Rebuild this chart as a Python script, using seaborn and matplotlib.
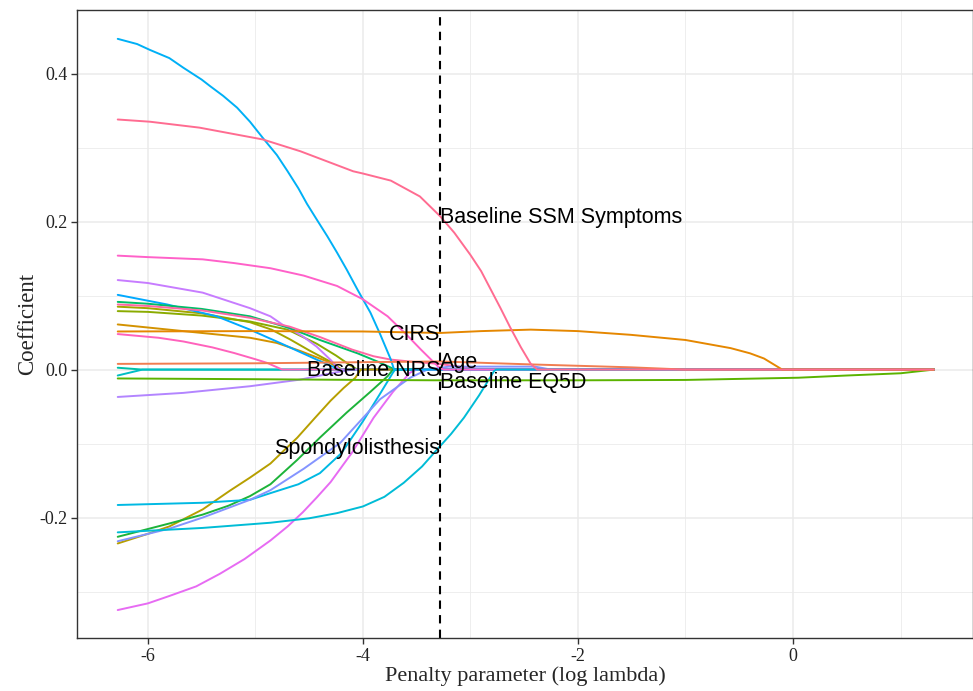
import pandas as pd
import numpy as np
import matplotlib.pyplot as plt
import matplotlib as mpl
from matplotlib.ticker import MultipleLocator
import seaborn as sns

sns.set_theme(style="white")
plt.rcParams['font.family'] = ['Liberation Serif', 'DejaVu Serif']
plt.rcParams['axes.unicode_minus'] = False
mpl.rc("figure", facecolor="white")

LAMBDA_MIN = -3.28
END = 1.31

# coefficient paths (log lambda, coefficient)
x_teal = [-6.28, -6.05, END]
y_teal = [0.0025, 0.0, 0.0]
x_cyan0 = [-6.28, -6.05, END]
y_cyan0 = [-0.008, 0.0, 0.0]
x_pink3 = [-6.28, -5.9, -5.67, -5.4, -5.2, -5.0, -4.89, -4.75, END]
y_pink3 = [0.048, 0.043, 0.038, 0.030, 0.0225, 0.014, 0.009, 0.0, 0.0]
x_purple2 = [-6.28, -5.67, -5.05, -4.58, -4.28, -4.1, END]
y_purple2 = [-0.037, -0.0315, -0.0225, -0.0135, -0.0045, 0.0, 0.0]
x_orange2 = [-6.28, -5.67, -5.05, -4.8, -4.58, -4.33, -4.2, END]
y_orange2 = [0.061, 0.052, 0.043, 0.036, 0.025, 0.011, 0.0, 0.0]
x_olive = [-6.28, -6.0, -5.5, -5.05, -4.85, -4.68, -4.5, -4.28, -4.2, END]
y_olive = [0.085, 0.083, 0.076, 0.064, 0.054, 0.041, 0.026, 0.009, 0.0, 0.0]
x_olivegreen = [-6.28, -6.0, -5.5, -5.05, -4.7, -4.43, -4.25, -4.12, -4.05, END]
y_olivegreen = [0.079, 0.078, 0.073, 0.065, 0.054, 0.035, 0.019, 0.006, 0.0, 0.0]
x_blue2 = [-6.28, -5.82, -5.36, -5.05, -4.74, -4.43, -4.28, -4.22, END]
y_blue2 = [0.101, 0.088, 0.072, 0.054, 0.034, 0.0135, 0.004, 0.0, 0.0]
x_purple1 = [-6.28, -6.0, -5.49, -5.05, -4.86, -4.74, -4.56, -4.43, -4.3, -4.22, END]
y_purple1 = [0.121, 0.117, 0.104, 0.083, 0.072, 0.06, 0.045, 0.031, 0.013, 0.0, 0.0]
x_green1 = [-6.28, -6.0, -5.5, -5.05, -4.68, -4.4, -4.05, -3.85, -3.7, END]
y_green1 = [0.0915, 0.089, 0.082, 0.072, 0.056, 0.040, 0.022, 0.010, 0.0, 0.0]
x_pink2 = [-6.28, -6.0, -5.5, -5.05, -4.68, -4.4, -4.1, -3.9, -3.74, -3.5, -3.31, -3.1, -2.9, END]
y_pink2 = [0.088, 0.086, 0.080, 0.070, 0.058, 0.044, 0.027, 0.018, 0.0135, 0.010, 0.008, 0.004, 0.0, 0.0]
x_olive2 = [-6.28, -6.0, -5.8, -5.49, -5.24, -5.05, -4.86, -4.61, -4.45, -4.30, -4.18, -4.07, -4.02, END]
y_olive2 = [-0.235, -0.222, -0.212, -0.189, -0.164, -0.146, -0.127, -0.092, -0.066, -0.042, -0.025, -0.011, 0.0, 0.0]
x_green2 = [-6.28, -5.8, -5.49, -5.25, -5.05, -4.86, -4.61, -4.4, -4.15, -3.93, -3.77, -3.72, END]
y_green2 = [-0.226, -0.208, -0.196, -0.184, -0.171, -0.155, -0.122, -0.092, -0.058, -0.03, -0.009, 0.0, 0.0]
x_cyan1 = [-6.28, -5.49, -5.05, -4.86, -4.6, -4.4, -4.2, -4.0, -3.85, -3.72, -3.7, END]
y_cyan1 = [-0.183, -0.180, -0.176, -0.167, -0.155, -0.14, -0.113, -0.07, -0.035, -0.004, 0.0, 0.0]
x_magenta = [-6.28, -6.0, -5.8, -5.55, -5.33, -5.1, -4.86, -4.7, -4.56, -4.43, -4.3, -4.1, -3.9, -3.72, -3.56, -3.5, END]
y_magenta = [-0.325, -0.316, -0.306, -0.293, -0.276, -0.256, -0.231, -0.212, -0.193, -0.173, -0.152, -0.112, -0.065, -0.03, -0.004, 0.0, 0.0]
x_bluepurple = [-6.28, -5.8, -5.49, -5.05, -4.86, -4.55, -4.21, -3.84, -3.56, -3.4, -3.2, -2.4, -2.25, END]
y_bluepurple = [-0.232, -0.215, -0.200, -0.176, -0.163, -0.134, -0.099, -0.04, -0.011, 0.0, 0.004, 0.004, 0.0, 0.0]
x_blue1 = [-6.28, -6.1, -5.98, -5.8, -5.67, -5.5, -5.42, -5.3, -5.17, -5.05, -4.93, -4.8, -4.7,
           -4.6, -4.52, -4.43, -4.33, -4.24, -4.15, -4.05, -3.93, -3.84, -3.74, -3.71, END]
y_blue1 = [0.447, 0.440, 0.432, 0.421, 0.408, 0.392, 0.383, 0.370, 0.354, 0.335, 0.313, 0.290, 0.268,
           0.245, 0.224, 0.203, 0.180, 0.158, 0.135, 0.108, 0.077, 0.048, 0.0135, 0.0, 0.0]
x_pink1 = [-6.28, -6.0, -5.49, -5.2, -4.86, -4.55, -4.24, -4.0, -3.77, -3.6, -3.46, -3.3, -3.25, END]
y_pink1 = [0.154, 0.152, 0.149, 0.144, 0.137, 0.127, 0.113, 0.095, 0.072, 0.048, 0.027, 0.004, 0.0, 0.0]
x_spondy = [-6.28, -5.49, -4.86, -4.5, -4.24, -4.0, -3.8, -3.62, -3.45, -3.31, -3.18, -3.06, -2.92, -2.78, -2.76, END]
y_spondy = [-0.22, -0.214, -0.207, -0.201, -0.194, -0.185, -0.172, -0.153, -0.131, -0.108, -0.087, -0.065, -0.035, -0.002, 0.0, 0.0]
x_eq5d = [-6.28, -5.0, -4.0, -3.28, -2.0, -1.0, 0.05, 0.5, 1.0, END]
y_eq5d = [-0.012, -0.013, -0.014, -0.0145, -0.0145, -0.014, -0.011, -0.008, -0.005, 0.0]
x_age = [-6.28, -5.0, -4.0, -3.28, -2.44, -1.5, -1.0, END]
y_age = [0.0077, 0.0085, 0.010, 0.011, 0.007, 0.003, 0.0, 0.0]
x_cirs = [-6.28, -5.0, -4.0, -3.28, -2.9, -2.44, -2.0, -1.51, -1.0, -0.58, -0.4, -0.27, -0.1, END]
y_cirs = [0.0515, 0.052, 0.0515, 0.0495, 0.052, 0.054, 0.052, 0.047, 0.040, 0.029, 0.022, 0.015, 0.0, 0.0]
x_ssm = [-6.28, -5.98, -5.52, -4.93, -4.58, -4.09, -4.0, -3.74, -3.47, -3.28, -3.15, -3.0, -2.9,
         -2.81, -2.72, -2.63, -2.53, -2.44, -2.38, END]
y_ssm = [0.338, 0.335, 0.327, 0.311, 0.295, 0.268, 0.265, 0.2554, 0.234, 0.207, 0.185, 0.155, 0.133,
         0.108, 0.083, 0.057, 0.030, 0.008, 0.0, 0.0]

# drawing order: last one ends up on top
series = [
    ("teal", x_teal, y_teal, "#00C1A7"),
    ("cyan0", x_cyan0, y_cyan0, "#00BFC4"),
    ("pink3", x_pink3, y_pink3, "#FF62BC"),
    ("purple2", x_purple2, y_purple2, "#B385FF"),
    ("orange2", x_orange2, y_orange2, "#D39200"),
    ("olive", x_olive, y_olive, "#A3A500"),
    ("olivegreen", x_olivegreen, y_olivegreen, "#8AAB00"),
    ("blue2", x_blue2, y_blue2, "#00A9FF"),
    ("purple1", x_purple1, y_purple1, "#C77CFF"),
    ("green1", x_green1, y_green1, "#00BE67"),
    ("pink2", x_pink2, y_pink2, "#FF67A4"),
    ("olive2", x_olive2, y_olive2, "#B79F00"),
    ("green2", x_green2, y_green2, "#1DB33A"),
    ("cyan1", x_cyan1, y_cyan1, "#00B9E3"),
    ("magenta", x_magenta, y_magenta, "#E76BF3"),
    ("bluepurple", x_bluepurple, y_bluepurple, "#8494FF"),
    ("blue1", x_blue1, y_blue1, "#00B0F6"),
    ("pink1", x_pink1, y_pink1, "#FF61C9"),
    ("Spondylolisthesis", x_spondy, y_spondy, "#00BCD6"),
    ("Baseline EQ5D", x_eq5d, y_eq5d, "#5BB300"),
    ("Age", x_age, y_age, "#F17D50"),
    ("CIRS", x_cirs, y_cirs, "#E58700"),
    ("Baseline SSM Symptoms", x_ssm, y_ssm, "#FF6C91"),
]

label_text = ["Baseline SSM Symptoms", "CIRS", "Age", "Baseline NRS", "Baseline EQ5D", "Spondylolisthesis"]
label_y = [0.205, 0.047, 0.0095, -0.001, -0.0175, -0.107]
label_side = ["left", "right", "left", "right", "left", "right"]

rows = []
for name, xs, ys, col in series:
    for xv, yv in zip(xs, ys):
        rows.append((name, xv, yv))
df = pd.DataFrame(rows, columns=["var", "loglambda", "coef"])
pal = {name: col for name, xs, ys, col in series}
order = [s[0] for s in series]

fig = plt.figure(figsize=(9.73, 6.91), dpi=100)
ax = fig.add_axes([0.079, 0.077, 0.921, 0.908])

ax.xaxis.set_minor_locator(MultipleLocator(1))
ax.yaxis.set_minor_locator(MultipleLocator(0.1))
ax.set_xticks([-6, -4, -2, 0])
ax.set_yticks([-0.2, 0.0, 0.2, 0.4])
ax.set_yticklabels(["-0.2", "0.0", "0.2", "0.4"])
ax.set_xticklabels(["-6", "-4", "-2", "0"])
ax.grid(which="major", color="#EBEBEB", linewidth=1.1, zorder=0)
ax.grid(which="minor", color="#EBEBEB", linewidth=0.6, zorder=0)
ax.set_axisbelow(True)

sns.lineplot(data=df, x="loglambda", y="coef", hue="var", hue_order=order,
             palette=pal, estimator=None, legend=False, linewidth=1.4, ax=ax)

ax.axvline(LAMBDA_MIN, color="black", linestyle=(0, (4, 3)), linewidth=1.5)

for txt, yv, side in zip(label_text, label_y, label_side):
    ax.text(LAMBDA_MIN, yv, txt, ha=side, va="center", fontsize=15.5,
            family=["Liberation Sans", "DejaVu Sans"], color="black")

ax.set_xlim(-6.66, 1.674)
ax.set_ylim(-0.3625, 0.4855)

for sp in ax.spines.values():
    sp.set_color("#333333")
    sp.set_linewidth(1.0)
ax.tick_params(axis="both", which="major", length=4, width=1, color="#333333",
               labelsize=13, labelcolor="#222222", pad=3, bottom=True, left=True)
ax.tick_params(axis="both", which="minor", length=0)

ax.set_xlabel("Penalty parameter (log lambda)", fontsize=16, labelpad=1)
ax.set_ylabel("Coefficient", fontsize=16.5, labelpad=1)

fig.savefig("out.png", dpi=100)
